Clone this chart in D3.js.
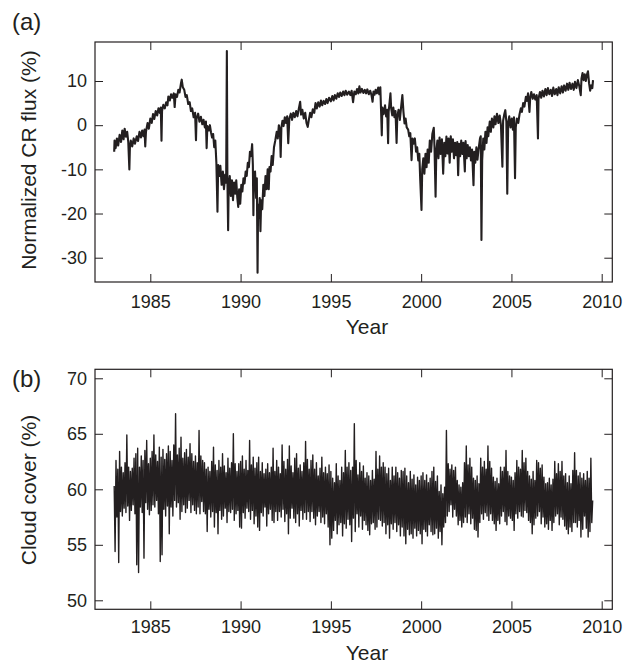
<!DOCTYPE html>
<html><head><meta charset="utf-8">
<script src="https://cdn.jsdelivr.net/npm/d3@7"></script>
<style>
body{margin:0;background:#fff}
svg text{font-family:"Liberation Sans",Arial,Helvetica,sans-serif;fill:#231f20}
</style>
</head><body>
<svg id="chart" width="633" height="664"></svg>
<script>
// ---- data ----
const xTicks = [1985, 1990, 1995, 2000, 2005, 2010];
const crTicks = [-30, -20, -10, 0, 10];
const cloudTicks = [50, 55, 60, 65, 70];

// (a) normalized cosmic-ray flux (%), [year, value]
const crFlux = [
[1983.00,-6.0],[1983.02,-3.5],[1983.08,-5.2],[1983.15,-3.0],[1983.22,-4.6],[1983.30,-2.2],[1983.38,-3.8],[1983.45,-1.2],[1983.52,-3.2],[1983.58,-0.8],[1983.65,-2.6],[1983.72,-1.5],[1983.78,-3.8],[1983.84,-10.0],[1983.87,-5.0],[1983.92,-3.5],
[1984.00,-4.8],[1984.08,-3.0],[1984.15,-4.2],[1984.25,-2.5],[1984.32,-3.6],[1984.40,-1.5],[1984.48,-2.8],[1984.55,-1.2],[1984.62,-2.5],[1984.68,-1.0],[1984.72,-4.8],[1984.76,-1.5],[1984.85,0.5],[1984.92,-0.8],
[1985.00,1.5],[1985.08,0.5],[1985.15,2.5],[1985.22,1.4],[1985.30,3.2],[1985.38,2.2],[1985.45,3.8],[1985.52,2.8],[1985.58,4.0],[1985.62,-3.5],[1985.65,3.2],[1985.72,4.6],[1985.80,3.8],[1985.88,5.2],[1985.95,4.5],
[1986.00,6.5],[1986.08,5.6],[1986.15,7.0],[1986.22,6.2],[1986.30,7.2],[1986.35,4.1],[1986.40,7.0],[1986.48,6.4],[1986.55,8.0],[1986.62,7.4],[1986.70,9.5],[1986.74,10.3],[1986.80,8.6],[1986.88,8.0],[1986.95,6.4],
[1987.02,6.8],[1987.10,4.8],[1987.18,5.2],[1987.25,3.2],[1987.32,3.8],[1987.40,1.8],[1987.48,2.8],[1987.53,-3.4],[1987.56,1.5],[1987.65,2.6],[1987.72,0.8],[1987.80,1.9],[1987.88,0.2],[1987.95,1.2],
[1988.02,-0.5],[1988.08,0.8],[1988.12,-5.2],[1988.16,-0.2],[1988.24,-1.2],[1988.30,0.0],[1988.36,-1.6],[1988.42,-2.8],[1988.48,-2.0],[1988.54,-5.0],[1988.60,-3.5],[1988.66,-8.6],[1988.72,-19.6],[1988.76,-9.0],[1988.82,-11.5],[1988.88,-9.2],[1988.95,-13.5],
[1989.02,-10.5],[1989.08,-14.5],[1989.15,-11.2],[1989.20,-13.0],[1989.24,16.8],[1989.27,-12.0],[1989.31,-23.8],[1989.34,-14.0],[1989.40,-11.5],[1989.46,-16.0],[1989.52,-12.5],[1989.58,-17.0],[1989.64,-13.0],[1989.70,-15.5],[1989.76,-12.5],[1989.82,-16.5],[1989.87,-18.5],[1989.92,-14.5],[1989.98,-17.8],
[1990.04,-13.5],[1990.10,-15.0],[1990.16,-12.0],[1990.22,-13.2],[1990.28,-10.5],[1990.34,-11.5],[1990.40,-8.5],[1990.46,-9.5],[1990.52,-6.0],[1990.58,-7.0],[1990.64,-4.3],[1990.68,-9.0],[1990.71,-20.4],[1990.74,-11.0],[1990.80,-10.5],[1990.86,-16.5],[1990.90,-12.0],[1990.94,-33.4],[1990.97,-18.0],
[1991.02,-21.0],[1991.06,-16.5],[1991.10,-24.0],[1991.14,-17.0],[1991.20,-19.0],[1991.26,-13.5],[1991.32,-16.0],[1991.38,-11.5],[1991.44,-14.5],[1991.50,-10.0],[1991.56,-14.5],[1991.60,-9.5],[1991.66,-10.5],[1991.72,-7.0],[1991.78,-9.0],[1991.85,-5.0],[1991.92,-3.5],
[1992.00,-1.5],[1992.06,-3.0],[1992.12,0.0],[1992.18,-1.5],[1992.22,-7.2],[1992.26,-0.5],[1992.32,1.0],[1992.38,-0.2],[1992.45,1.8],[1992.52,0.5],[1992.58,2.0],[1992.64,-4.1],[1992.70,1.5],[1992.78,2.6],[1992.85,1.2],[1992.92,2.8],
[1993.00,1.8],[1993.08,3.2],[1993.15,2.0],[1993.22,3.6],[1993.30,5.3],[1993.35,2.4],[1993.42,3.5],[1993.50,1.5],[1993.58,2.8],[1993.65,0.5],[1993.72,-0.4],[1993.78,1.2],[1993.85,2.8],[1993.92,1.8],
[1994.00,3.6],[1994.08,2.8],[1994.15,5.0],[1994.22,3.8],[1994.30,5.2],[1994.38,4.2],[1994.45,5.6],[1994.52,4.5],[1994.60,5.5],[1994.68,4.8],[1994.75,5.9],[1994.82,5.0],[1994.90,6.2],
[1995.00,5.4],[1995.08,6.6],[1995.15,5.6],[1995.22,6.8],[1995.30,6.0],[1995.38,7.2],[1995.45,6.4],[1995.52,7.4],[1995.60,6.6],[1995.68,7.6],[1995.75,6.8],[1995.82,7.8],[1995.90,6.9],
[1996.00,7.6],[1996.08,6.8],[1996.15,7.8],[1996.23,5.2],[1996.30,7.6],[1996.38,7.0],[1996.45,8.2],[1996.52,7.2],[1996.58,8.8],[1996.64,7.4],[1996.72,8.2],[1996.80,7.3],[1996.88,8.0],[1996.95,7.2],
[1997.02,8.1],[1997.10,7.0],[1997.18,7.8],[1997.25,6.8],[1997.31,5.3],[1997.36,7.6],[1997.42,6.9],[1997.48,8.0],[1997.55,7.2],[1997.62,8.5],[1997.68,7.0],[1997.74,8.6],[1997.78,3.4],[1997.82,-2.3],[1997.85,4.0],[1997.92,2.5],
[1998.00,4.5],[1998.06,2.0],[1998.12,3.5],[1998.17,-4.1],[1998.20,3.0],[1998.26,5.5],[1998.30,7.2],[1998.34,3.8],[1998.40,2.2],[1998.46,4.0],[1998.52,1.8],[1998.58,3.2],[1998.64,-4.0],[1998.68,2.0],[1998.75,3.5],[1998.82,1.2],[1998.90,4.5],[1998.96,6.8],
[1999.02,3.0],[1999.08,0.4],[1999.14,1.5],[1999.20,-0.5],[1999.28,-1.0],[1999.34,-2.5],[1999.40,-1.8],[1999.47,-7.9],[1999.52,-3.0],[1999.58,-4.2],[1999.65,-3.0],[1999.72,-6.0],[1999.78,-5.0],[1999.84,-8.0],[1999.90,-6.5],[1999.95,-12.4],
[2000.02,-19.2],[2000.06,-10.0],[2000.12,-7.5],[2000.18,-11.0],[2000.24,-6.5],[2000.30,-9.5],[2000.36,-5.5],[2000.42,-8.5],[2000.48,-3.5],[2000.55,-6.0],[2000.62,-2.0],[2000.70,-0.6],[2000.74,-5.0],[2000.80,-16.2],[2000.84,-6.0],[2000.90,-3.5],[2000.96,-7.5],
[2001.02,-2.8],[2001.08,-6.5],[2001.15,-3.2],[2001.22,-11.0],[2001.28,-4.0],[2001.34,-7.0],[2001.40,-2.6],[2001.46,-6.4],[2001.52,-3.0],[2001.58,-8.5],[2001.64,-2.5],[2001.70,-6.0],[2001.76,-3.2],[2001.82,-7.5],[2001.88,-4.0],[2001.94,-6.8],
[2002.00,-3.8],[2002.05,-11.3],[2002.10,-4.2],[2002.16,-7.0],[2002.22,-3.5],[2002.28,-6.5],[2002.34,-4.0],[2002.42,-10.5],[2002.46,-3.6],[2002.52,-7.5],[2002.58,-4.5],[2002.64,-7.0],[2002.70,-5.0],[2002.76,-8.0],[2002.82,-5.5],[2002.90,-13.6],[2002.94,-6.0],
[2003.00,-8.5],[2003.06,-5.0],[2003.12,-7.8],[2003.18,-5.5],[2003.26,-3.0],[2003.30,-2.5],[2003.34,-26.0],[2003.38,-8.0],[2003.44,-3.0],[2003.50,-5.5],[2003.56,-1.5],[2003.62,-4.0],[2003.68,-0.5],[2003.72,-2.5],[2003.80,0.8],[2003.86,-1.5],[2003.92,1.5],
[2004.00,-0.5],[2004.06,2.0],[2004.12,0.2],[2004.20,2.6],[2004.28,0.5],[2004.35,2.2],[2004.42,0.0],[2004.50,-9.4],[2004.54,1.0],[2004.60,2.4],[2004.66,3.4],[2004.72,0.8],[2004.77,-15.5],[2004.82,0.5],[2004.88,2.0],[2004.95,-0.5],
[2005.02,1.5],[2005.08,-1.0],[2005.14,1.8],[2005.20,-12.0],[2005.24,-0.5],[2005.30,1.5],[2005.38,0.5],[2005.45,2.5],[2005.52,3.8],[2005.58,3.0],[2005.65,5.0],[2005.72,4.2],[2005.80,6.4],[2005.86,5.5],[2005.92,7.2],
[2006.00,3.0],[2006.04,6.2],[2006.10,7.5],[2006.18,6.0],[2006.25,7.0],[2006.32,5.8],[2006.40,6.8],[2006.47,-3.0],[2006.50,6.0],[2006.58,7.5],[2006.65,6.2],[2006.72,7.8],[2006.80,6.5],[2006.88,8.2],[2006.95,6.8],
[2007.02,8.4],[2007.10,7.0],[2007.18,8.0],[2007.25,6.6],[2007.32,8.5],[2007.40,7.0],[2007.48,8.2],[2007.55,6.8],[2007.62,8.6],[2007.70,7.2],[2007.78,8.8],[2007.85,7.4],[2007.92,9.0],
[2008.00,7.8],[2008.08,9.4],[2008.15,8.0],[2008.22,9.6],[2008.30,8.2],[2008.38,9.4],[2008.45,8.0],[2008.52,9.8],[2008.60,8.4],[2008.68,10.2],[2008.76,8.8],[2008.84,6.8],[2008.88,10.5],[2008.94,11.8],
[2009.00,10.2],[2009.06,11.5],[2009.12,10.0],[2009.18,11.4],[2009.24,12.2],[2009.30,9.5],[2009.36,7.8],[2009.42,9.0],[2009.48,8.4],[2009.52,10.2]
];

const cloudStartYear = 1983.0;
const cloudStepYears = 0.05;
const cloudCover = [
60.3,54.4,62.6,57.5,61.8,53.4,63.4,58.0,62.0,57.6,61.5,58.3,62.4,57.9,64.9,58.5,62.0,57.2,61.6,58.1,
61.9,58.6,62.8,57.8,63.2,53.2,63.7,52.5,62.0,58.4,63.0,57.9,62.6,53.8,63.5,58.8,64.4,58.2,62.3,57.7,
62.8,58.1,63.4,58.6,64.9,58.4,63.1,59.0,62.5,57.8,63.8,53.5,62.9,54.1,63.6,58.2,62.7,57.6,63.2,58.5,
63.9,56.0,63.4,58.4,62.6,57.6,64.0,59.0,66.8,58.4,63.1,58.8,63.7,57.3,64.7,58.0,62.8,58.6,63.3,57.9,
63.6,58.3,62.9,59.0,64.1,57.9,63.2,58.6,62.5,58.1,63.0,57.8,62.4,58.4,65.3,57.8,63.0,58.9,62.6,58.0,
62.4,57.8,61.8,56.2,62.0,58.2,61.6,57.5,62.5,58.0,63.8,56.6,62.2,57.9,61.7,56.0,62.6,58.1,62.0,57.3,
63.2,57.6,62.1,58.3,61.5,57.0,62.8,58.0,61.9,57.9,62.4,58.2,65.0,57.2,62.3,57.8,61.6,58.1,62.3,56.6,
62.5,56.5,63.0,57.9,61.8,57.4,62.6,58.3,61.7,58.0,64.4,57.3,62.2,58.1,62.9,56.9,61.9,57.6,62.4,56.6,
62.9,56.3,61.6,57.9,62.4,57.6,61.4,58.4,61.8,56.7,62.3,57.8,61.5,58.2,62.0,57.2,63.7,57.0,61.6,58.0,
62.6,57.2,62.0,58.0,61.4,57.5,64.0,58.2,62.5,57.1,61.8,57.8,62.7,56.0,63.9,57.4,62.1,58.3,61.5,57.4,
62.8,57.0,63.2,57.8,61.9,56.7,62.2,58.1,61.6,57.3,62.4,57.9,64.3,57.3,62.7,58.0,61.8,57.1,62.6,58.0,
63.1,57.4,61.8,56.8,62.4,57.6,61.2,58.0,61.9,57.0,62.9,57.5,61.5,56.9,62.0,57.8,61.4,56.6,62.2,55.0,
61.6,55.6,61.0,56.3,60.6,57.2,62.3,56.0,61.2,56.8,60.8,57.0,62.0,55.8,61.5,56.9,63.5,56.5,62.0,57.3,
62.4,56.8,61.7,55.3,62.0,57.4,65.9,56.2,62.6,57.8,61.3,56.6,62.4,57.6,61.6,56.4,62.1,57.2,61.0,56.8,
61.5,56.3,61.2,55.9,60.8,56.9,61.7,57.0,60.9,56.4,63.4,56.6,61.8,57.3,63.0,57.2,62.0,56.7,62.4,57.0,
62.0,56.0,61.4,56.8,61.9,55.6,60.8,56.9,62.0,56.4,61.2,57.0,62.0,56.2,61.5,56.8,61.0,55.8,61.7,56.6,
61.6,55.8,61.9,55.1,61.2,56.4,60.6,55.9,61.6,56.0,60.9,55.6,61.3,56.5,60.4,55.8,61.1,56.3,60.8,56.0,
61.2,55.1,61.5,56.4,60.8,56.2,61.3,55.8,60.6,56.8,61.0,56.2,61.6,55.9,62.0,56.0,60.7,56.5,61.2,55.6,
59.8,56.2,60.4,55.0,59.6,56.6,60.2,57.0,65.3,57.6,62.3,58.0,61.8,58.6,62.2,57.5,61.7,58.2,62.0,57.6,
60.8,56.8,60.4,57.2,60.2,56.6,60.6,57.0,62.4,57.5,63.9,57.0,62.2,57.8,62.8,56.9,62.0,57.4,61.0,56.4,
60.8,56.3,61.2,55.7,60.5,57.0,62.8,57.8,62.0,57.3,62.5,57.9,61.8,57.6,63.9,57.2,62.5,57.8,61.9,57.2,
61.1,56.9,60.7,56.3,61.0,57.2,60.5,56.9,62.0,57.6,61.6,58.0,62.0,57.1,63.5,56.8,61.6,57.6,61.2,57.4,
61.1,57.2,60.8,56.3,61.5,57.8,62.6,57.4,62.0,58.0,61.8,57.6,63.5,57.5,62.4,58.1,62.8,57.9,61.6,57.2,
61.2,57.0,60.9,56.0,61.6,56.8,60.8,57.4,62.6,57.6,62.4,58.0,61.9,56.9,62.2,57.5,61.1,56.6,60.5,56.9,
60.6,56.4,61.0,57.2,60.4,56.3,60.9,57.0,62.5,57.6,61.4,57.8,62.3,56.8,61.6,57.5,62.5,57.3,61.2,56.7,
61.4,56.4,60.6,56.0,61.2,56.6,60.5,56.2,61.7,57.0,63.3,57.0,61.7,56.6,61.2,57.2,61.5,55.7,61.0,56.4,
61.4,57.6,60.8,56.5,61.6,55.7,61.0,56.2,62.8,57.0,59.0
];

const panelLabels = ["(a)", "(b)"];
const yLabels = ["Normalized CR flux (%)", "Cloud cover (%)"];
const xLabel = "Year";

// ---- layout ----
const ink = "#231f20";
const svg = d3.select("#chart");
const left = 95, right = 612.3;
const x = d3.scaleLinear().domain([1981.937, 2010.587]).range([left, right]);

const panels = [
  {top: 42, bottom: 282, domain: [-35.5, 18.83], ticks: crTicks,
   data: crFlux, sw: 2.1, label: panelLabels[0], labelY: 30, ylab: yLabels[0], ylabY: 160,
   xPad: 13, xlabY: 334},
  {top: 369.3, bottom: 609.3, domain: [49.19, 70.81], ticks: cloudTicks,
   data: cloudCover.map((v, i) => [cloudStartYear + i * cloudStepYears, v]), sw: 1.4,
   label: panelLabels[1], labelY: 387, ylab: yLabels[1], ylabY: 490, xPad: 11, xlabY: 660}
];

panels.forEach((p, k) => {
  const y = d3.scaleLinear().domain(p.domain).range([p.bottom, p.top]);
  const g = svg.append("g");

  const cid = "clip" + k;
  svg.append("clipPath").attr("id", cid).append("rect")
    .attr("x", left).attr("y", p.top).attr("width", right - left).attr("height", p.bottom - p.top);

  g.append("path")
    .datum(p.data)
    .attr("clip-path", `url(#${cid})`)
    .attr("fill", "none")
    .attr("stroke", ink)
    .attr("stroke-width", p.sw)
    .attr("stroke-linejoin", "round")
    .attr("d", d3.line().x(d => x(d[0])).y(d => y(d[1])));

  const styleAxis = sel => {
    sel.select(".domain").remove();
    sel.selectAll(".tick line").attr("stroke", ink).attr("stroke-width", 1);
    sel.selectAll(".tick text").attr("fill", ink).style("font-size", "18px")
      .style("font-family", '"Liberation Sans",Arial,Helvetica,sans-serif');
  };

  g.append("g").attr("transform", `translate(0,${p.bottom})`)
    .call(d3.axisBottom(x).tickValues(xTicks).tickSize(-8).tickPadding(p.xPad).tickFormat(d => String(d)))
    .call(styleAxis);
  g.append("g").attr("transform", `translate(0,${p.top})`)
    .call(d3.axisTop(x).tickValues(xTicks).tickSize(-8).tickFormat(""))
    .call(styleAxis);
  g.append("g").attr("transform", `translate(${left},0)`)
    .call(d3.axisLeft(y).tickValues(p.ticks).tickSize(-8).tickPadding(8).tickFormat(d => String(d)))
    .call(styleAxis);
  g.append("g").attr("transform", `translate(${right},0)`)
    .call(d3.axisRight(y).tickValues(p.ticks).tickSize(-8).tickFormat(""))
    .call(styleAxis);

  g.append("rect")
    .attr("x", left).attr("y", p.top).attr("width", right - left).attr("height", p.bottom - p.top)
    .attr("fill", "none").attr("stroke", ink).attr("stroke-width", 1.2);

  g.append("text").attr("x", 12).attr("y", p.labelY)
    .style("font-size", "24px").text(p.label);

  g.append("text")
    .attr("transform", `translate(36,${p.ylabY}) rotate(-90)`)
    .attr("text-anchor", "middle").style("font-size", "21px").text(p.ylab);

  g.append("text").attr("x", 367).attr("y", p.xlabY)
    .attr("text-anchor", "middle").style("font-size", "21px").text(xLabel);
});
</script>
</body></html>
